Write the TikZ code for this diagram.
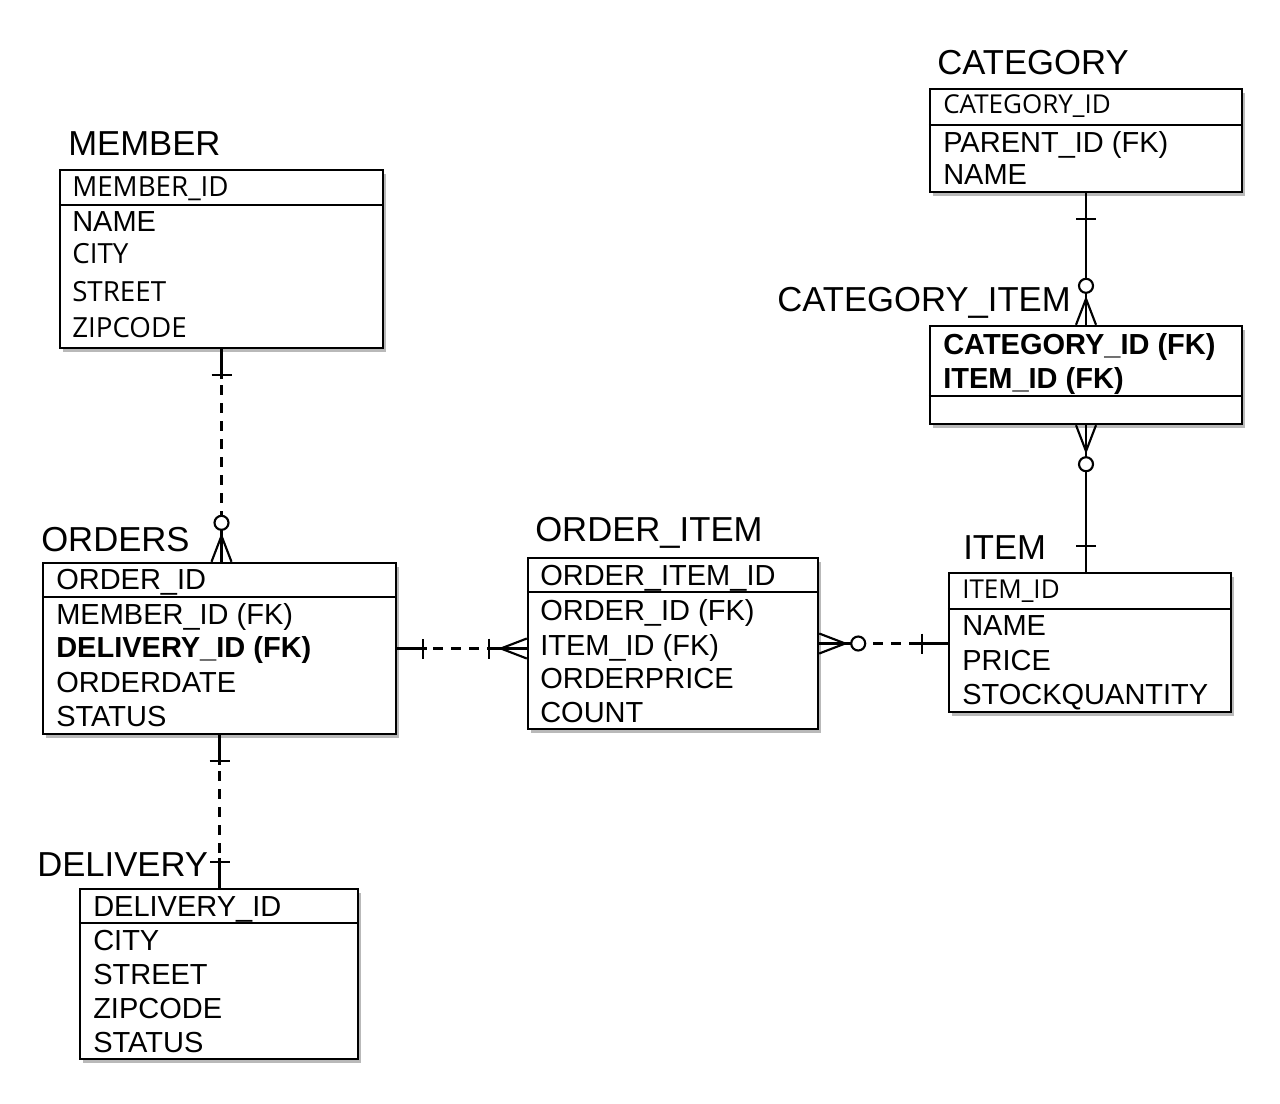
\documentclass[tikz,border=0pt]{standalone}
\usepackage{fontspec}
\setmainfont{Liberation Sans}
\newfontfamily\lightfont{Open Sans}
\usetikzlibrary{fit,shadows}

\tikzset{
  tbl/.style={draw, line width=1.8pt, fill=white, inner sep=0pt,
    drop shadow={shadow xshift=2.2pt, shadow yshift=-2.8pt, opacity=0.55}},
  tbltitle/.style={anchor=base west, inner sep=0pt, font=\fontsize{26}{30}\selectfont},
  field/.style={anchor=base west, inner sep=0pt, font=\fontsize{21.75}{26}\selectfont},
  lightfield/.style={anchor=base west, inner sep=0pt, font=\lightfont\fontsize{19.5}{24}\selectfont},
  widefield/.style={anchor=base west, inner sep=0pt, font=\lightfont\fontsize{20.8}{24}\selectfont},
  keyfield/.style={anchor=base west, inner sep=0pt, font=\bfseries\fontsize{21.75}{26}\selectfont},
  conn/.style={line width=1.6pt},
  conndash/.style={line width=1.6pt, dash pattern=on 7.5pt off 6pt},
  % end marks, x pointing away from the table
  onebar/.pic={\draw[conn] (0,0) -- (30,0); \draw[conn] (26,-10) -- (26,10);},
  zeromany/.pic={\draw[conn] (0,-10) -- (26,0) -- (0,10); \draw[conn] (0,0) -- (32,0);
    \draw[conn, fill=white] (39,0) circle (7);},
  onemany/.pic={\draw[conn] (0,-10) -- (26,0) -- (0,10); \draw[conn] (0,0) -- (40,0);
    \draw[conn] (38,-10) -- (38,10);}
}

\begin{document}
\begin{tikzpicture}[x=0.75pt,y=0.75pt,yscale=-1,xscale=1]
\useasboundingbox (0,0) rectangle (1280,1103);

% Tables
\node[tbl, fit={(60,170) (383,348)}] (member) {};
\node[tbl, fit={(43,563) (396,734)}] (orders) {};
\node[tbl, fit={(80,889) (358,1059)}] (delivery) {};
\node[tbl, fit={(528,558) (818,729)}] (oitem) {};
\node[tbl, fit={(949,573) (1231,712)}] (item) {};
\node[tbl, fit={(930,89) (1242,192)}] (category) {};
\node[tbl, fit={(930,326) (1242,424)}] (catitem) {};

% Key separators
\draw[line width=1.8pt] (member.west |- 0,205) -- (member.east |- 0,205);
\draw[line width=1.8pt] (orders.west |- 0,597) -- (orders.east |- 0,597);
\draw[line width=1.8pt] (delivery.west |- 0,923) -- (delivery.east |- 0,923);
\draw[line width=1.8pt] (oitem.west |- 0,592) -- (oitem.east |- 0,592);
\draw[line width=1.8pt] (item.west |- 0,609) -- (item.east |- 0,609);
\draw[line width=1.8pt] (category.west |- 0,125) -- (category.east |- 0,125);
\draw[line width=1.8pt] (catitem.west |- 0,396) -- (catitem.east |- 0,396);

% Titles
\node[tbltitle] (membertitle) at (68,155) {MEMBER};
\node[tbltitle] (orderstitle) at (41,551) {ORDERS};
\node[tbltitle] (deliverytitle) at (37,876) {DELIVERY};
\node[tbltitle] (oitemtitle) at (535,541) {ORDER\_ITEM};
\node[tbltitle] (itemtitle) at (963,559) {ITEM};
\node[tbltitle] (categorytitle) at (937,74) {CATEGORY};
\node[tbltitle] (catitemtitle) at (777,311) {CATEGORY\_ITEM};

% MEMBER
\node[widefield] (m1) at (72,196) {MEMBER\_ID};
\node[field] (m2) at (72,231) {NAME};
\node[widefield] (m3) at (72,263) {CITY};
\node[widefield] (m4) at (72,301) {STREET};
\node[widefield] (m5) at (72,337) {ZIPCODE};

% ORDERS
\node[field] (o1) at (56,589) {ORDER\_ID};
\node[field] (o2) at (56,624) {MEMBER\_ID (FK)};
\node[keyfield] (o3) at (56,657) {DELIVERY\_ID (FK)};
\node[field] (o4) at (56,692) {ORDERDATE};
\node[field] (o5) at (56,726) {STATUS};

% DELIVERY
\node[field] (d1) at (93,916) {DELIVERY\_ID};
\node[field] (d2) at (93,950) {CITY};
\node[field] (d3) at (93,984) {STREET};
\node[field] (d4) at (93,1018) {ZIPCODE};
\node[field] (d5) at (93,1052) {STATUS};

% ORDER_ITEM
\node[field] (oi1) at (540,585) {ORDER\_ITEM\_ID};
\node[field] (oi2) at (540,620) {ORDER\_ID (FK)};
\node[field] (oi3) at (540,655) {ITEM\_ID (FK)};
\node[field] (oi4) at (540,688) {ORDERPRICE};
\node[field] (oi5) at (540,722) {COUNT};

% ITEM
\node[lightfield] (i1) at (962,598) {ITEM\_ID};
\node[field] (i2) at (962,635) {NAME};
\node[field] (i3) at (962,670) {PRICE};
\node[field] (i4) at (962,704) {STOCKQUANTITY};

% CATEGORY
\node[lightfield] (c1) at (943,113) {CATEGORY\_ID};
\node[field] (c2) at (943,152) {PARENT\_ID (FK)};
\node[field] (c3) at (943,184) {NAME};

% CATEGORY_ITEM
\node[keyfield] (ci1) at (943,354) {CATEGORY\_ID (FK)};
\node[keyfield] (ci2) at (943,388) {ITEM\_ID (FK)};

% Relations
\draw[conndash] (member.south) -- (member.south |- orders.north);
\pic[rotate=-90] at (member.south) {onebar};
\pic[rotate=90] at (member.south |- orders.north) {zeromany};

\draw[conndash] (orders.east) -- (orders.east -| oitem.west);
\pic at (orders.east) {onebar};
\pic[rotate=180] at (orders.east -| oitem.west) {onemany};

\draw[conndash] (oitem.east) -- (oitem.east -| item.west);
\pic at (oitem.east) {zeromany};
\pic[rotate=180] at (oitem.east -| item.west) {onebar};

\draw[conn] (category.south) -- (category.south |- catitem.north);
\pic[rotate=-90] at (category.south) {onebar};
\pic[rotate=90] at (category.south |- catitem.north) {zeromany};

\draw[conn] (catitem.south) -- (catitem.south |- item.north);
\pic[rotate=-90] at (catitem.south) {zeromany};
\pic[rotate=90] at (catitem.south |- item.north) {onebar};

\draw[conndash] (orders.south) -- (orders.south |- delivery.north);
\pic[rotate=-90] at (orders.south) {onebar};
\pic[rotate=90] at (orders.south |- delivery.north) {onebar};
\end{tikzpicture}
\end{document}
